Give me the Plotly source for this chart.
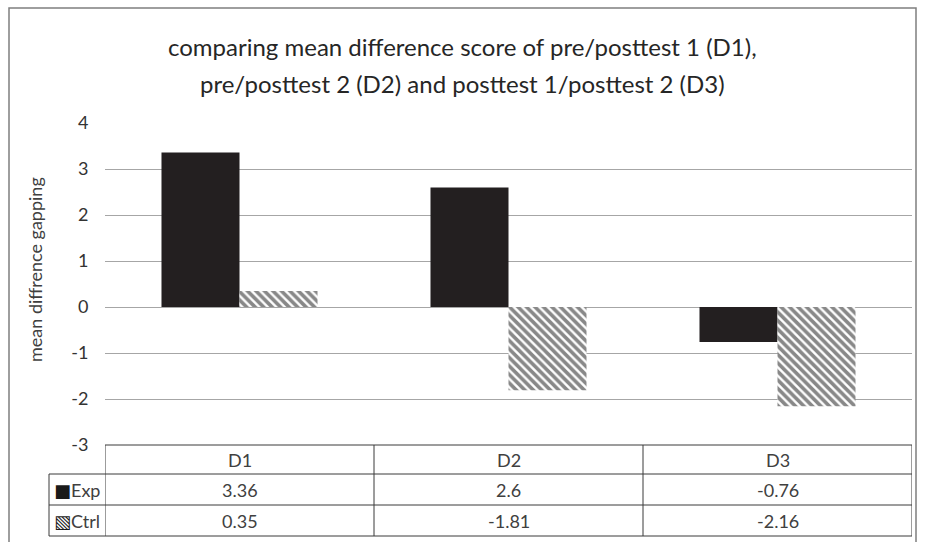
import plotly.graph_objects as go

# Data
categories = ["D1", "D2", "D3"]
series_names = ["Exp", "Ctrl"]
exp_values = [3.36, 2.6, -0.76]
ctrl_values = [0.35, -1.81, -2.16]
y_ticks = [4, 3, 2, 1, 0, -1, -2, -3]
y_tick_labels = ["4", "3", "2", "1", "0", "-1", "-2", "-3"]

title_lines = ["comparing mean difference score of pre/posttest 1 (D1),",
               "pre/posttest 2 (D2) and posttest 1/posttest 2 (D3)"]
y_title = "mean diffrence gapping"

FONT = "Lato, Open Sans, sans-serif"
TEXT_COLOR = "#404040"

W, H = 926, 542
ML, MR, MT, MB = 105, 14, 123, 97
PW, PH = W - ML - MR, H - MT - MB


def px_x(px):
    """Pixel x -> paper x."""
    return (px - ML) / PW


def px_y(py):
    """Pixel y (from top) -> paper y."""
    return (H - MB - py) / PH


fig = go.Figure()
fig.add_trace(go.Bar(
    x=categories, y=exp_values, name=series_names[0],
    marker=dict(color="#231f20", line=dict(width=0)),
))
fig.add_trace(go.Bar(
    x=categories, y=ctrl_values, name=series_names[1],
    marker=dict(color="white", line=dict(width=0),
                pattern=dict(shape="\\", fgcolor="#111111", bgcolor="white",
                             size=6, solidity=0.6)),
))

shapes = []
line_style = dict(color="#3a3a3a", width=1)

# Data table below the plot
row_edges = [px_y(445), px_y(474), px_y(505), px_y(536)]
legend_left = px_x(49)
shapes.append(dict(type="line", xref="x", yref="paper", x0=-0.5, x1=2.5,
                   y0=row_edges[0], y1=row_edges[0], line=line_style))
for ye in row_edges[1:]:
    shapes.append(dict(type="line", xref="paper", yref="paper",
                       x0=legend_left, x1=1.0, y0=ye, y1=ye, line=line_style))
shapes.append(dict(type="line", xref="paper", yref="paper", x0=legend_left,
                   x1=legend_left, y0=row_edges[1], y1=row_edges[3],
                   line=line_style))
for xe in [-0.5, 0.5, 1.5, 2.5]:
    shapes.append(dict(type="line", xref="x", yref="paper", x0=xe, x1=xe,
                       y0=row_edges[0], y1=row_edges[3], line=line_style))

# Outer chart border
shapes.append(dict(type="rect", xref="paper", yref="paper",
                   x0=px_x(9), x1=px_x(916), y0=px_y(548), y1=px_y(8),
                   line=dict(color="#7f7f7f", width=1.5), layer="below"))

annotations = []
cell_font = dict(size=18, color=TEXT_COLOR, family=FONT)
row_mid = [(row_edges[i] + row_edges[i + 1]) / 2 for i in range(3)]
for i, c in enumerate(categories):
    for r, txt in enumerate([c, f"{exp_values[i]:g}", f"{ctrl_values[i]:g}"]):
        annotations.append(dict(x=c, y=row_mid[r], xref="x", yref="paper",
                                text=txt, showarrow=False,
                                xanchor="center", yanchor="middle",
                                font=cell_font))

key_x = (legend_left + px_x(ML)) / 2
keys = ["■", "▧"]
for r, (name, key) in enumerate(zip(series_names, keys)):
    annotations.append(dict(
        x=key_x, y=row_mid[r + 1], xref="paper", yref="paper",
        text=f"<span style='font-family:DejaVu Sans;color:#1a1a1a'>{key}</span>{name}",
        showarrow=False, xanchor="center", yanchor="middle", font=cell_font))

# Title, one annotation per line
for py, line in zip([46, 84], title_lines):
    annotations.append(dict(x=px_x(462), y=px_y(py), xref="paper", yref="paper",
                            text=line, showarrow=False, xanchor="center",
                            yanchor="middle",
                            font=dict(size=24, color="#262626", family=FONT)))

# Rotated y-axis title
annotations.append(dict(x=px_x(35), y=px_y(270), xref="paper", yref="paper",
                        text=y_title, textangle=-90, showarrow=False,
                        xanchor="center", yanchor="middle",
                        font=dict(size=18, color=TEXT_COLOR, family=FONT)))

fig.update_layout(
    width=W, height=H,
    margin=dict(l=ML, r=MR, t=MT, b=MB),
    paper_bgcolor="white", plot_bgcolor="white",
    showlegend=False,
    barmode="group", bargap=0.42, bargroupgap=0,
    xaxis=dict(range=[-0.5, 2.5], showticklabels=False, showgrid=False,
               zeroline=False, showline=False, ticks=""),
    yaxis=dict(range=[-3, 4], tickvals=y_ticks, ticktext=y_tick_labels,
               showgrid=True, gridcolor="#a6a6a6", gridwidth=1,
               zeroline=False, showline=False, ticks="outside", ticklen=12,
               tickcolor="rgba(0,0,0,0)",
               tickfont=dict(size=18, color="#333333", family=FONT)),
    shapes=shapes,
    annotations=annotations,
)

fig.write_html("out.html")
